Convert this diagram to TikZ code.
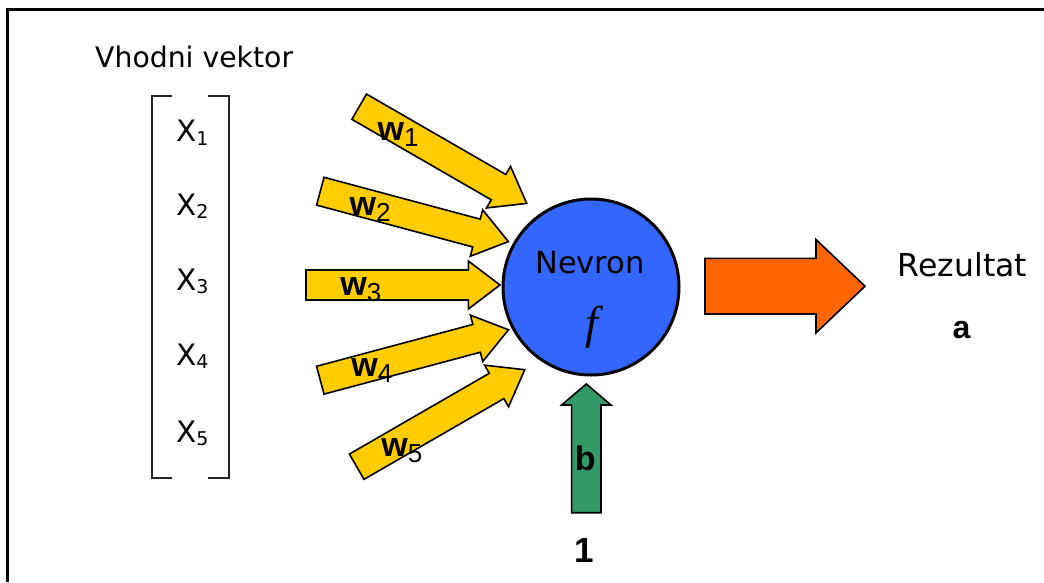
\documentclass[tikz,border=0pt]{standalone}
\usepackage{fontspec}
\setmainfont{DejaVu Sans}
\newfontfamily\lsans{Liberation Sans}
\newfontfamily\lserif{Liberation Serif}
\usetikzlibrary{calc}
\definecolor{wyellow}{HTML}{FFCC00}
\definecolor{nblue}{HTML}{3366FF}
\definecolor{rorange}{HTML}{FF6600}
\definecolor{bgreen}{HTML}{339966}
\tikzset{
  frameline/.style={line width=3pt, draw=black},
  bracketline/.style={line width=2pt, draw=black!85},
  yarrow/.style={fill=wyellow, draw=black, line width=1.6pt, line join=miter},
  garrow/.style={fill=bgreen, draw=black, line width=1.6pt, line join=miter},
  oarrow/.style={fill=rorange, draw=black, line width=1.6pt, line join=miter},
  xlab/.style={anchor=base west, inner sep=0pt, font=\fontsize{29.5}{31}\selectfont},
  wlab/.style={anchor=base west, inner sep=0pt, font=\lsans\bfseries\fontsize{34}{36}\selectfont},
  boldlab/.style={inner sep=0pt, font=\lsans\bfseries\fontsize{35}{37}\selectfont},
  plainlab/.style={inner sep=0pt, font=\fontsize{31.5}{33}\selectfont},
}
% #1 style, #2 x, #3 y, #4 screen angle (cw), #5 length, #6 half shaft, #7 half head, #8 head length
\newcommand{\blockarr}[8]{%
  \begin{scope}[shift={(#2,#3)}, rotate={-(#4)}]
    \draw[#1] (0,-#6) -- ({#5-#8},-#6) -- ({#5-#8},-#7) -- (#5,0) -- ({#5-#8},#7) -- ({#5-#8},#6) -- (0,#6) -- cycle;
  \end{scope}}
\newcommand{\xsub}[1]{X\raisebox{-3.5pt}{\fontsize{19}{19}\selectfont #1}}
\newcommand{\wsub}[1]{w\raisebox{-6pt}{\mdseries\fontsize{26}{26}\selectfont #1}}
\begin{document}
\begin{tikzpicture}[x=1pt,y=-1pt]
\useasboundingbox (0,0) rectangle (1044,582);
% frame
\coordinate (ftr) at (1044,9);
\coordinate (ftl) at (7.7,9);
\coordinate (fbl) at (7.7,582);
\draw[frameline] (ftr) -- (ftl) -- (fbl);

% title
\node[anchor=base west, inner sep=0pt, font=\fontsize{28.3}{30}\selectfont] (title) at (95,67) {Vhodni vektor};

% brackets
\coordinate (lb1) at (171.7,96);
\coordinate (lb2) at (151.7,96);
\coordinate (lb3) at (151.7,478.3);
\coordinate (lb4) at (171.7,478.3);
\coordinate (rb1) at (208.3,96);
\coordinate (rb2) at (229.3,96);
\coordinate (rb3) at (229.3,478.3);
\coordinate (rb4) at (208.3,478.3);
\draw[bracketline] (lb1) -- (lb2) -- (lb3) -- (lb4);
\draw[bracketline] (rb1) -- (rb2) -- (rb3) -- (rb4);

% input labels
\node[xlab] (x1) at (176,141.7) {\xsub{1}};
\node[xlab] (x2) at (176,215) {\xsub{2}};
\node[xlab] (x3) at (176,290) {\xsub{3}};
\node[xlab] (x4) at (176,365) {\xsub{4}};
\node[xlab] (x5) at (176,442) {\xsub{5}};

% weight arrows
\blockarr{yarrow}{359.2}{106.7}{30}{193.4}{14.6}{24}{32.5}
\blockarr{yarrow}{320.3}{191.2}{15}{194.7}{14.4}{24}{33}
\blockarr{yarrow}{306}{285}{0}{194}{15}{24}{31.7}
\blockarr{yarrow}{320.3}{380.2}{-15}{194.8}{14.4}{24}{33}
\blockarr{yarrow}{356.7}{466.7}{-30}{194}{14.6}{24}{32.5}

% weight labels
\node[wlab] (w1) at (377.5,140) {\wsub{1}};
\node[wlab] (w2) at (349.5,215) {\wsub{2}};
\node[wlab] (w3) at (340.2,295) {\wsub{3}};
\node[wlab] (w4) at (351.2,376.7) {\wsub{4}};
\node[wlab] (w5) at (381.2,456.7) {\wsub{5}};

% neuron
\node[circle, minimum size=176pt, inner sep=0pt, fill=nblue, draw=black, line width=3pt] (neuron) at (591,287) {};
\node[anchor=base, inner sep=0pt, font=\fontsize{30.5}{32}\selectfont] (nevron) at (590,273.3) {Nevron};
\node[anchor=base, inner sep=0pt, font=\lserif\itshape\fontsize{46}{48}\selectfont] (f) at (592,338) {f};

% bias arrow
\blockarr{garrow}{586.3}{512.7}{-90}{128.7}{14.7}{24.7}{21}
\node[boldlab, font=\lsans\bfseries\fontsize{34}{36}\selectfont] (b) at (585.3,458.3) {b};
\node[boldlab] (one) at (584.5,550.5) {1};

% output arrow
\blockarr{oarrow}{705}{286.2}{0}{160}{27.8}{46.7}{49}
\node[plainlab, anchor=base] (rez) at (962.5,276.7) {Rezultat};
\node[boldlab, font=\lsans\bfseries\fontsize{32}{34}\selectfont] (a) at (961.5,330) {a};
\end{tikzpicture}
\end{document}
